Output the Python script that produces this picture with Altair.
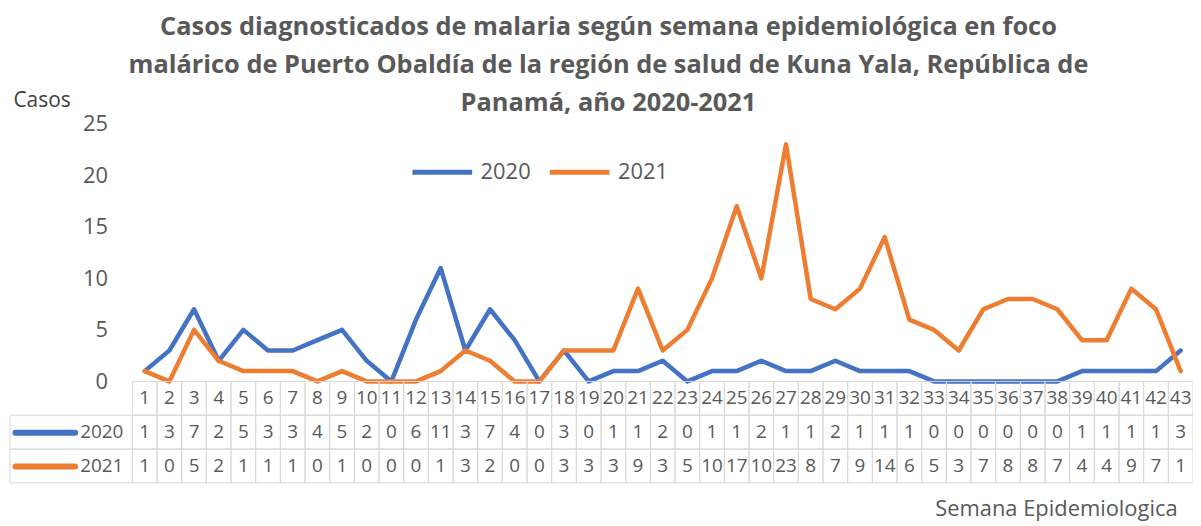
import altair as alt
import pandas as pd

# ---------------- data ----------------
weeks = list(range(1, 44))
casos_2020 = [1, 3, 7, 2, 5, 3, 3, 4, 5, 2, 0, 6, 11, 3, 7, 4, 0, 3, 0,
              1, 1, 2, 0, 1, 1, 2, 1, 1, 2, 1, 1, 1, 0, 0, 0, 0, 0, 0, 1, 1, 1, 1, 3]
casos_2021 = [1, 0, 5, 2, 1, 1, 1, 0, 1, 0, 0, 0, 1, 3, 2, 0, 0, 3, 3,
              3, 9, 3, 5, 10, 17, 10, 23, 8, 7, 9, 14, 6, 5, 3, 7, 8, 8, 7, 4, 4, 9, 7, 1]
years = ["2020", "2021"]
colors = ["#4472C4", "#ED7D31"]
y_ticks = [0, 5, 10, 15, 20, 25]
title_lines = [
    "Casos diagnosticados de malaria según semana epidemiológica en foco",
    "malárico de Puerto Obaldía de la región de salud de Kuna Yala, República de",
    "Panamá, año 2020-2021",
]
y_title = "Casos"
x_title = "Semana Epidemiologica"

# ---------------- tables ----------------
lines_df = pd.DataFrame({
    "semana": weeks * 2,
    "casos": casos_2020 + casos_2021,
    "año": [years[0]] * len(weeks) + [years[1]] * len(weeks),
})

rows = ["hdr"] + years
cells = [{"semana": w, "fila": "hdr", "texto": str(w)} for w in weeks]
for yr, vals in zip(years, [casos_2020, casos_2021]):
    cells += [{"semana": w, "fila": yr, "texto": str(v)} for w, v in zip(weeks, vals)]
cells_df = pd.DataFrame(cells)
label_df = pd.DataFrame({"fila": years})

# ---------------- layout ----------------
FONT = "Open Sans"
GRAY = "#595959"
GRID = "#D9D9D9"
W, H = 1189, 361
COL0 = 123          # left edge of week columns (px inside plot)
Y0 = 259            # pixel of value 0
TABLE_END = H

xscale = alt.Scale(domain=[0.5, 43.5], range=[COL0, W], nice=False, zero=False)
xaxis = alt.Axis(title=x_title, labels=False, ticks=False, domain=False, grid=False,
                 titleAnchor="end", titleAlign="right", titleBaseline="middle",
                 titleX=W - 16, titleY=26, titleFont=FONT, titleFontSize=22,
                 titleFontWeight="normal", titleColor=GRAY)

yaxis = alt.Axis(values=y_ticks, title=y_title, titleAngle=0, titleAlign="left",
                 titleBaseline="middle", titleX=-95, titleY=-23, titleFont=FONT,
                 titleFontSize=21, titleFontWeight="normal", titleColor="#404040",
                 labelFont=FONT, labelFontSize=22, labelColor=GRAY, labelPadding=0,
                 ticks=False, tickSize=0, domain=False, grid=False, offset=-98)

lines = alt.Chart(lines_df).mark_line(strokeWidth=4.5, strokeCap="round", strokeJoin="round").encode(
    x=alt.X("semana:Q", scale=xscale, axis=xaxis),
    y=alt.Y("casos:Q", scale=alt.Scale(domain=[0, 25], range=[Y0, 0], nice=False), axis=yaxis),
    color=alt.Color("año:N", scale=alt.Scale(domain=years, range=colors),
                    legend=alt.Legend(orient="none", legendX=402, legendY=16, direction="horizontal",
                                      title=None, symbolType="stroke", symbolSize=3600,
                                      symbolStrokeWidth=5, labelFont=FONT, labelFontSize=22,
                                      labelColor=GRAY, labelOffset=6, columnPadding=8, padding=0)),
)

tscale = alt.Scale(domain=rows, range=[Y0, TABLE_END], paddingInner=0, paddingOuter=0)
taxis = alt.Axis(orient="right", values=years, title="", offset=-(W - 5), domain=False, grid=False,
                 tickSize=60, tickWidth=6, tickCap="round",
                 tickColor={"condition": {"test": "datum.value === '2020'", "value": colors[0]},
                            "value": colors[1]},
                 labelPadding=5, labelFont=FONT, labelFontSize=19, labelColor=GRAY)

cell_rects = alt.Chart(cells_df).mark_rect(fillOpacity=0, stroke=GRID, strokeWidth=1).transform_calculate(
    x0="datum.semana - 0.5", x1="datum.semana + 0.5"
).encode(
    x=alt.X("x0:Q", scale=xscale, axis=xaxis),
    x2="x1:Q",
    y=alt.Y("fila:N", scale=tscale, axis=taxis),
)

label_rects = alt.Chart(label_df).mark_rect(fillOpacity=0, stroke=GRID, strokeWidth=1).encode(
    x=alt.value(0), x2=alt.value(COL0),
    y=alt.Y("fila:N", scale=tscale, axis=taxis),
)

cell_text = alt.Chart(cells_df).mark_text(font=FONT, fontSize=19, color=GRAY, align="center",
                                           baseline="middle").encode(
    x=alt.X("semana:Q", scale=xscale, axis=xaxis),
    y=alt.Y("fila:N", scale=tscale, axis=taxis),
    text="texto:N",
)

table = alt.layer(cell_rects, label_rects, cell_text)

chart = alt.layer(lines, table).resolve_scale(y="independent").properties(
    width=W, height=H,
    padding={"left": 2, "top": 115, "right": 0, "bottom": 42},
    autosize=alt.AutoSizeParams(type="none"),
    title=alt.TitleParams(text=title_lines, font=FONT, fontSize=25.5, fontWeight="bold", color=GRAY,
                          lineHeight=38.5, anchor="middle", frame="group", offset=-27, dx=7),
).configure_view(strokeWidth=0)

chart.save("out.html", embed_options={"renderer": "svg", "actions": False})
